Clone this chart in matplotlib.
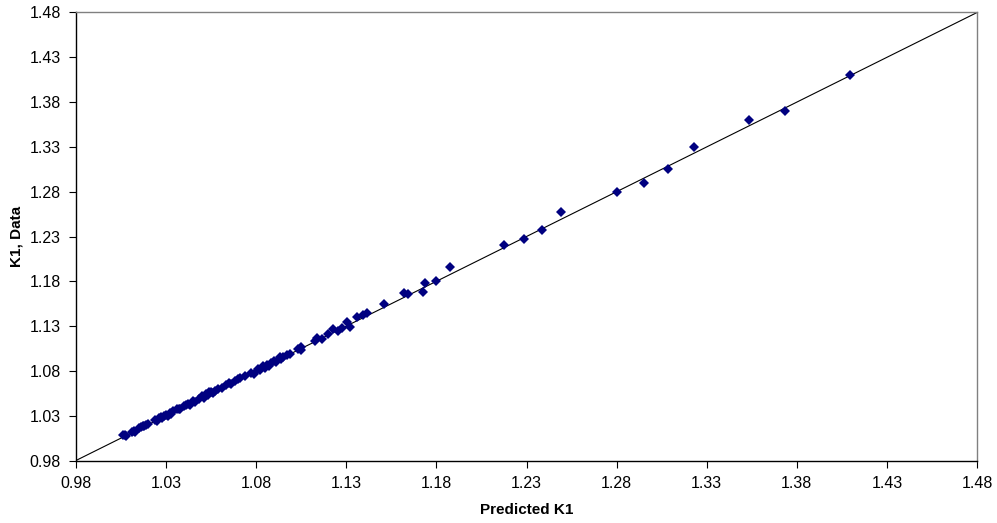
import numpy as np
import matplotlib.pyplot as plt

plt.rcParams['font.family'] = ['Liberation Sans', 'DejaVu Sans']

# predicted vs measured K1
predicted = [
    1.006, 1.007, 1.008, 1.011, 1.012, 1.013, 1.015, 1.016, 1.017, 1.018,
    1.019, 1.020, 1.024, 1.025, 1.026, 1.027, 1.028, 1.029, 1.030, 1.031,
    1.032, 1.033, 1.034, 1.036, 1.037, 1.038, 1.040, 1.041, 1.042, 1.043,
    1.045, 1.046, 1.048, 1.050, 1.051, 1.052, 1.053, 1.054, 1.055, 1.056,
    1.057, 1.059, 1.061, 1.063, 1.065, 1.066, 1.068, 1.070, 1.071, 1.074,
    1.077, 1.079, 1.081, 1.082, 1.084, 1.085, 1.086, 1.087, 1.088, 1.090,
    1.091, 1.093, 1.094, 1.095, 1.097, 1.099, 1.103, 1.105, 1.105,
    1.1126, 1.1136, 1.1163, 1.1198, 1.1228, 1.1256, 1.1274, 1.1306, 1.1321,
    1.1358, 1.1394, 1.1413, 1.1508, 1.1622, 1.1641, 1.1726, 1.1738, 1.1798,
    1.1875, 1.2175, 1.2288, 1.2388, 1.2493, 1.2801, 1.2954, 1.3087, 1.3230,
    1.3533, 1.3735, 1.4095,
]
measured = [
    1.008, 1.009, 1.007, 1.012, 1.013, 1.012, 1.016, 1.017, 1.019, 1.018,
    1.020, 1.021, 1.025, 1.024, 1.027, 1.028, 1.027, 1.030, 1.031, 1.030,
    1.033, 1.032, 1.035, 1.037, 1.038, 1.037, 1.041, 1.042, 1.043, 1.042,
    1.046, 1.045, 1.049, 1.052, 1.050, 1.054, 1.053, 1.056, 1.057, 1.055,
    1.058, 1.060, 1.061, 1.064, 1.066, 1.065, 1.069, 1.071, 1.072, 1.074,
    1.078, 1.077, 1.082, 1.081, 1.085, 1.083, 1.087, 1.086, 1.089, 1.091,
    1.090, 1.095, 1.093, 1.096, 1.098, 1.099, 1.104, 1.107, 1.103,
    1.1134, 1.1164, 1.1156, 1.1209, 1.1264, 1.1249, 1.1276, 1.1349, 1.1293,
    1.1405, 1.1420, 1.1443, 1.1547, 1.1666, 1.1655, 1.1677, 1.1784, 1.1807,
    1.1956, 1.2205, 1.2269, 1.2373, 1.2570, 1.2800, 1.2900, 1.3050, 1.3302,
    1.3600, 1.3700, 1.4102,
]
lo, hi = 0.98, 1.48
ticks = np.arange(lo, hi + 0.001, 0.05)

fig = plt.figure(figsize=(9.97, 5.23), dpi=100)
ax = fig.add_axes([0.0762, 0.1195, 0.9038, 0.8566])

ax.plot([lo, hi], [lo, hi], color='black', linewidth=0.8, zorder=2)
ax.plot(predicted, measured, linestyle='none', marker='D', markersize=5.3,
        color='#000080', markeredgewidth=0, zorder=3)

ax.set_xlim(lo, hi)
ax.set_ylim(lo, hi)
ax.set_xticks(ticks)
ax.set_yticks(ticks)
ax.set_xticklabels([f"{t:.2f}" for t in ticks], fontsize=11.5)
ax.set_yticklabels([f"{t:.2f}" for t in ticks], fontsize=11.5)
ax.tick_params(direction='out', length=5, width=0.8, color='black', pad=6)

for side in ['left', 'bottom']:
    ax.spines[side].set_color('black')
    ax.spines[side].set_linewidth(1.0)
for side in ['top', 'right']:
    ax.spines[side].set_color('#808080')
    ax.spines[side].set_linewidth(1.0)

ax.set_xlabel("Predicted K1", fontsize=11, fontweight='bold', labelpad=9)
ax.set_ylabel("K1, Data", fontsize=11, fontweight='bold', labelpad=4)

fig.savefig("out.png", dpi=100)
